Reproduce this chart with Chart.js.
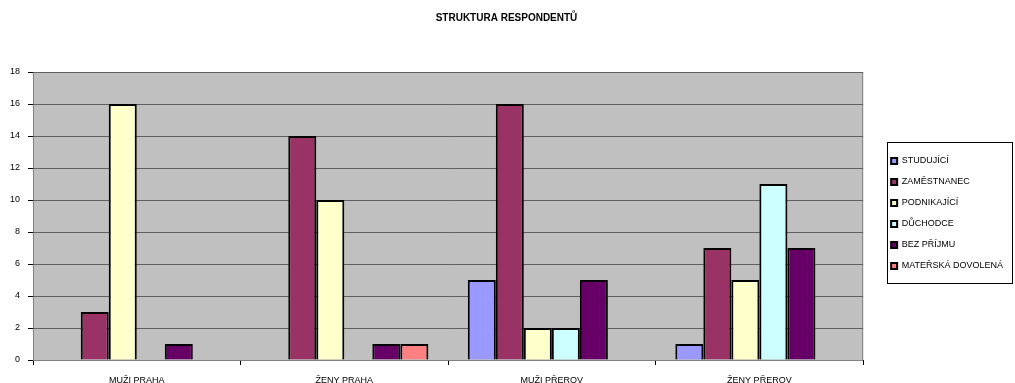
<!DOCTYPE html>
<html>
<head>
<meta charset="utf-8">
<script src="https://cdn.jsdelivr.net/npm/chart.js@4/dist/chart.umd.min.js"></script>
<style>
  html, body { margin: 0; padding: 0; background: #fff; }
  #wrap { width: 1015px; height: 383px; }
</style>
</head>
<body>
<div id="wrap"><canvas id="respChart"></canvas></div>
<script>
const groups = ["MUŽI PRAHA", "ŽENY PRAHA", "MUŽI PŘEROV", "ŽENY PŘEROV"];

const studujici   = [0, 0, 5, 1];
const zamestnanec = [3, 14, 16, 7];
const podnikajici = [16, 10, 2, 5];
const duchodce    = [0, 0, 2, 11];
const bezPrijmu   = [1, 1, 5, 7];
const materska    = [0, 1, 0, 0];

const yTicks = [0, 2, 4, 6, 8, 10, 12, 14, 16, 18];

// grey plot background and frame
const plotFrame = {
    id: "plotFrame",
    beforeDatasetsDraw(chart) {
        const { ctx, chartArea: a } = chart;
        ctx.save();
        ctx.fillStyle = "#c0c0c0";
        ctx.fillRect(a.left, a.top, a.right - a.left, a.bottom - a.top);
        ctx.strokeStyle = "#808080";
        ctx.lineWidth = 1;
        ctx.strokeRect(a.left + 0.5, a.top + 0.5, a.right - a.left - 1, a.bottom - a.top);
        // gridlines over the fill
        const y = chart.scales.y;
        ctx.strokeStyle = "#606060";
        yTicks.forEach(v => {
            if (v === 0) return;
            const py = Math.round(y.getPixelForValue(v)) + 0.5;
            ctx.beginPath();
            ctx.moveTo(a.left, py);
            ctx.lineTo(a.right, py);
            ctx.stroke();
        });
        ctx.restore();
    }
};

// black frame around the legend
const legendFrame = {
    id: "legendFrame",
    afterDraw(chart) {
        const boxes = chart.legend.legendHitBoxes;
        if (!boxes || !boxes.length) return;
        const first = boxes[0], last = boxes[boxes.length - 1];
        const { ctx } = chart;
        ctx.save();
        ctx.strokeStyle = "#000";
        ctx.lineWidth = 1;
        const left = Math.round(first.left) - 3.5;
        const top = Math.round(first.top) - 13.5;
        const right = chart.width - 2.5;
        const bottom = Math.round(last.top + last.height) + 13.5;
        ctx.strokeRect(left, top, right - left, bottom - top);
        ctx.restore();
    }
};

function ds(label, data, color) {
    return {
        label: label,
        data: data,
        backgroundColor: color,
        borderColor: "#000",
        borderWidth: 2,
        borderSkipped: "bottom",
        categoryPercentage: 0.81,
        barPercentage: 1.0
    };
}

Chart.defaults.font.family = "'Liberation Sans', Arial, sans-serif";
Chart.defaults.color = "#000";

new Chart(document.getElementById("respChart"), {
    type: "bar",
    data: {
        labels: groups,
        datasets: [
            ds("STUDUJÍCÍ", studujici, "#9999ff"),
            ds("ZAMĚSTNANEC", zamestnanec, "#993366"),
            ds("PODNIKAJÍCÍ", podnikajici, "#ffffcc"),
            ds("DŮCHODCE", duchodce, "#ccffff"),
            ds("BEZ PŘÍJMU", bezPrijmu, "#660066"),
            ds("MATEŘSKÁ DOVOLENÁ", materska, "#ff8080")
        ]
    },
    options: {
        responsive: true,
        maintainAspectRatio: false,
        animation: false,
        layout: { padding: { left: 0, right: 2, top: 0, bottom: 0 } },
        scales: {
            x: {
                offset: true,
                grid: {
                    offset: true,
                    drawOnChartArea: false,
                    tickLength: 5,
                    tickColor: "#000"
                },
                border: { color: "#000", width: 1 },
                ticks: { font: { size: 9 }, padding: 10, maxRotation: 0 },
                afterFit: s => { s.height = 23; }
            },
            y: {
                min: 0,
                max: 18,
                afterBuildTicks: s => { s.ticks = yTicks.map(v => ({ value: v })); },
                grid: {
                    drawOnChartArea: false,
                    tickLength: 5,
                    tickColor: "#000"
                },
                border: { color: "#000", width: 1 },
                ticks: { font: { size: 9 }, padding: 8 },
                afterFit: s => { s.width = 33; }
            },
            gap: {
                position: "right",
                display: true,
                grid: { display: false },
                border: { display: false },
                ticks: { display: false },
                afterFit: s => { s.width = 16; }
            }
        },
        plugins: {
            title: {
                display: true,
                text: "STRUKTURA RESPONDENTŮ",
                font: { size: 10, weight: "bold" },
                color: "#000",
                padding: { top: 12, bottom: 48 }
            },
            legend: {
                position: "right",
                title: {
                    display: true,
                    text: " ",
                    font: { size: 9 },
                    padding: { top: 16, bottom: 17 }
                },
                labels: {
                    boxWidth: 6,
                    boxHeight: 6,
                    padding: 12,
                    font: { size: 9 },
                    color: "#000",
                    useBorderRadius: false
                }
            },
            tooltip: { enabled: false }
        }
    },
    plugins: [plotFrame, legendFrame]
});
</script>
</body>
</html>
